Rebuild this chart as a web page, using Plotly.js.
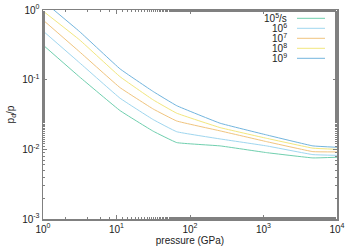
<!DOCTYPE html>
<html><head><meta charset="utf-8">
<script src="https://cdn.plot.ly/plotly-3.0.1.min.js"></script>
<style>html,body{margin:0;padding:0;background:#fff}#c{width:360px;height:252px}</style>
</head><body><div id="c"></div>
<script>
const pressure = [1, 3.16, 11.2, 31.6, 66, 257, 1100, 4700, 10000];
const rate1e5 = [0.315, 0.109, 0.0359, 0.0182, 0.0125, 0.0112, 0.00897, 0.00753, 0.0077];
const rate1e6 = [0.50, 0.174, 0.0541, 0.0267, 0.0179, 0.0141, 0.0112, 0.0084, 0.0082];
const rate1e7 = [0.719, 0.250, 0.0767, 0.0379, 0.0255, 0.0184, 0.0129, 0.00927, 0.00918];
const rate1e8 = [0.967, 0.371, 0.110, 0.0512, 0.033, 0.0205, 0.0144, 0.0104, 0.0100];
const rate1e9 = [1.35, 0.488, 0.1425, 0.0675, 0.0423, 0.0237, 0.0161, 0.0112, 0.0107];
const seriesNames = ['10<sup>5</sup>/s', '10<sup>6</sup>', '10<sup>7</sup>', '10<sup>8</sup>', '10<sup>9</sup>'];
const xTickVals = [1, 10, 100, 1000, 10000];
const xTickText = ['10<sup>0</sup>', '10<sup>1</sup>', '10<sup>2</sup>', '10<sup>3</sup>', '10<sup>4</sup>'];
const yTickVals = [0.001, 0.01, 0.1, 1];
const yTickText = ['10<sup>-3</sup>', '10<sup>-2</sup>', '10<sup>-1</sup>', '10<sup>0</sup>'];
const seriesData = [rate1e5, rate1e6, rate1e7, rate1e8, rate1e9];
const colors = ['#6fcfae', '#9fd6ef', '#f0c47e', '#f2e77e', '#72b5de'];

const traces = seriesData.map((ys, i) => ({
  x: pressure, y: ys, type: 'scatter', mode: 'lines', name: seriesNames[i],
  line: {color: colors[i], width: 1, shape: 'spline', smoothing: 0.25}, showlegend: false
}));

const annotations = [], shapes = [];
seriesNames.forEach((n, i) => {
  const yy = 1 - (8.3 + 10 * i) / 209;
  annotations.push({xref: 'paper', yref: 'paper', x: (289 - 43) / 294, y: yy, text: n, showarrow: false,
    xanchor: 'right', yanchor: 'middle', font: {size: 10, color: '#222'}});
  shapes.push({type: 'line', xref: 'paper', yref: 'paper', x0: (297 - 43) / 294, x1: (325 - 43) / 294,
    y0: yy, y1: yy, line: {color: colors[i], width: 1}});
});

const axisCommon = {
  type: 'log', showgrid: false, zeroline: false, showline: true, linecolor: '#808080', linewidth: 1.5,
  mirror: 'allticks', ticks: 'inside', ticklen: 4, tickcolor: '#808080', tickwidth: 1,
  tickfont: {size: 10, color: '#222'},
  minor: {ticks: 'inside', ticklen: 2, tickcolor: '#808080', showgrid: false}
};

const layout = {
  width: 360, height: 252,
  margin: {l: 43, r: 23, t: 10, b: 33},
  paper_bgcolor: '#fff', plot_bgcolor: '#fff',
  font: {family: 'Liberation Sans, Arial, sans-serif', size: 10, color: '#222'},
  xaxis: Object.assign({}, axisCommon, {range: [0, 4], tickmode: 'array', tickvals: xTickVals, ticktext: xTickText,
    title: {text: 'pressure (GPa)', font: {size: 10}, standoff: 3}}),
  yaxis: Object.assign({}, axisCommon, {range: [-3, 0], tickmode: 'array', tickvals: yTickVals, ticktext: yTickText,
    title: {text: 'p<sub>d</sub>/p', font: {size: 10}, standoff: 5}}),
  annotations: annotations, shapes: shapes
};
Plotly.newPlot('c', traces, layout, {staticPlot: true, displayModeBar: false});
</script></body></html>
